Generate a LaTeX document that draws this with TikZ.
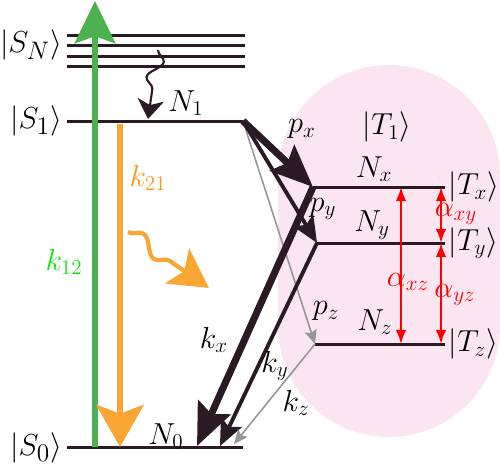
\documentclass[tikz,border=0pt]{standalone}
\usepackage{amsmath}
\usetikzlibrary{arrows.meta,decorations.pathmorphing}
\definecolor{levelcol}{RGB}{42,26,36}
\definecolor{pinkbg}{RGB}{250,229,241}
\definecolor{pumpgreen}{RGB}{76,178,80}
\definecolor{labgreen}{RGB}{20,225,20}
\definecolor{decayorange}{RGB}{250,166,52}
\definecolor{laborange}{RGB}{250,150,30}
\definecolor{weakgrey}{RGB}{150,150,150}
\tikzset{
  level/.style={line width=1.7pt, levelcol},
  strongarr/.style={line width=4pt, levelcol, -{Stealth[length=24pt,width=20pt,inset=4pt]}},
  midarr/.style={line width=2.2pt, levelcol, -{Stealth[length=15pt,width=13pt,inset=3pt]}},
  weakarr/.style={line width=0.9pt, weakgrey, -{Stealth[length=8pt,width=7pt,inset=1.5pt]}},
  mixarr/.style={line width=1.1pt, red, {Latex[length=8pt,width=6pt]}-{Latex[length=8pt,width=6pt]}},
  lab/.style={font=\fontsize{17}{20}\selectfont, inner sep=1pt},
  biglab/.style={font=\fontsize{19}{22}\selectfont, inner sep=1pt},
  statelab/.style={font=\fontsize{16.5}{19}\selectfont, inner sep=0pt}
}
\begin{document}
\begin{tikzpicture}[x=0.02cm, y=-0.02cm]
  \useasboundingbox (0,0) rectangle (500,468);
  % triplet manifold background
  \fill[pinkbg, rounded corners=2.22cm] (278,65) rectangle (500,437);
  % singlet levels
  \foreach \yy in {35,45,56,66}
    \draw[level] (67,\yy) -- (245,\yy);
  \draw[level] (67,121) -- (243,121);
  \draw[level] (67,447) -- (243,447);
  \node[biglab, anchor=east] (sN) at (64,45) {$|S_N\rangle$};
  \node[biglab, anchor=east] (s1) at (64,121) {$|S_1\rangle$};
  \node[biglab, anchor=east] (s0) at (64,448) {$|S_0\rangle$};
  \node[lab] (n1) at (186,103) {$N_1$};
  \node[lab] (n0) at (166,436) {$N_0$};
  % triplet levels
  \coordinate (S1r) at (243,121);
  \coordinate (Tx) at (313,187);
  \coordinate (Ty) at (317,243);
  \coordinate (Tz) at (315,344);
  \coordinate (Txr) at (445,187);
  \coordinate (Tyr) at (445,243);
  \coordinate (Tzr) at (445,344);
  \draw[level] (Tx) -- (Txr);
  \draw[level] (Ty) -- (Tyr);
  \draw[level] (Tz) -- (Tzr);
  \node[lab] (t1) at (387,127) {$|T_1\rangle$};
  \node[statelab, anchor=west] (tx) at ([xshift=2pt]Txr) {$|T_x\rangle$};
  \node[statelab, anchor=west] (ty) at ([xshift=2pt]Tyr) {$|T_y\rangle$};
  \node[statelab, anchor=west] (tz) at ([xshift=2pt]Tzr) {$|T_z\rangle$};
  \node[lab] (nx) at (374,169) {$N_x$};
  \node[lab] (ny) at (372,225) {$N_y$};
  \node[lab] (nz) at (375,322) {$N_z$};
  % pump and decay S1 -> S0
  \coordinate (pumpb) at (95,447);
  \coordinate (pumpt) at (95,1);
  \coordinate (flb) at (120,124);
  \coordinate (flt) at (120,447);
  \draw[line width=3.4pt, pumpgreen, -{Stealth[length=24pt,width=23pt,inset=4pt]}] (pumpb) -- (pumpt);
  \draw[line width=3pt, decayorange, -{Stealth[length=24pt,width=27pt,inset=5pt]}] (flb) -- (flt);
  \node[lab, text=labgreen] (k12) at (64,262) {$k_{12}$};
  \node[lab, text=laborange] (k21) at (148,178) {$k_{21}$};
  % internal conversion and non-radiative decay
  \coordinate (icb) at (158,50);
  \coordinate (ict) at (148,119);
  \draw[levelcol, line width=1.2pt, decorate,
        decoration={snake, amplitude=1.5mm, segment length=7mm, post length=5mm},
        -{Stealth[length=11pt,width=15pt,inset=3pt]}] (icb) -- (ict);
  \coordinate (nrb) at (128,232);
  \coordinate (nrt) at (209,288);
  \draw[decayorange, line width=2.4pt, decorate,
        decoration={snake, amplitude=1.5mm, segment length=9mm, post length=9mm},
        -{Stealth[length=22pt,width=24pt,inset=5pt]}] (nrb) -- (nrt);
  % intersystem crossing
  \draw[weakarr] (S1r) -- (Tz);
  \draw[midarr] (S1r) -- (Ty);
  \draw[strongarr] (S1r) -- (Tx);
  \node[lab] (px) at (302,129) {$p_x$};
  \node[lab] (py) at (323,209) {$p_y$};
  \node[lab] (pz) at (326,311) {$p_z$};
  % triplet decay to S0
  \coordinate (S0x) at (197,446);
  \coordinate (S0y) at (220,446);
  \coordinate (S0z) at (234,444);
  \draw[strongarr] (Tx) -- (S0x);
  \draw[midarr] (Ty) -- (S0y);
  \draw[weakarr] (Tz) -- (S0z);
  \node[lab] (kx) at (214,340) {$k_x$};
  \node[lab] (ky) at (275,366) {$k_y$};
  \node[lab] (kz) at (296,403) {$k_z$};
  % spin mixing
  \coordinate (axzt) at (401,187);
  \coordinate (axzb) at (401,344);
  \coordinate (axyt) at (441,187);
  \coordinate (axyb) at (441,243);
  \coordinate (ayzb) at (441,344);
  \draw[mixarr] (axzt) -- (axzb);
  \draw[mixarr] (axyt) -- (axyb);
  \draw[mixarr] (axyb) -- (ayzb);
  \node[lab, text=red] (axy) at (456,214) {$\alpha_{xy}$};
  \node[lab, text=red] (axz) at (408,282) {$\alpha_{xz}$};
  \node[lab, text=red] (ayz) at (455,295) {$\alpha_{yz}$};
\end{tikzpicture}
\end{document}
